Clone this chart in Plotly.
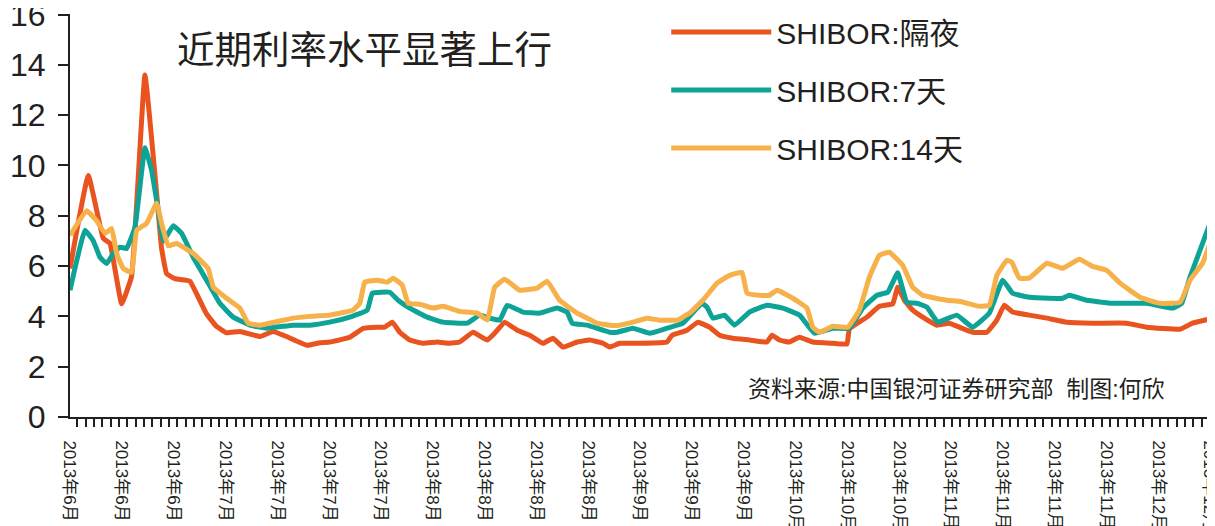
import plotly.graph_objects as go

# ---------------- data (x = trading-day position, y = rate %) ----------------
on_x = [0.0, 2.2, 4.0, 4.8, 6.2, 7.4, 9.0, 10.4, 11.0, 11.6, 12.6, 14.4, 15.2, 16.4, 17.6, 18.8,
        20.4, 22.8, 24.4, 26.0, 28.5, 30.0, 31.2, 33.6, 35.2, 36.9, 37.8, 38.7, 39.6, 40.8, 42.4,
        44.1, 45.6, 46.8, 48.4, 50.1, 51.0, 52.2, 53.7, 55.2, 56.8, 58.0, 59.2, 60.9, 62.4, 64.0,
        64.8, 66.0, 68.4, 71.7, 72.3, 74.1, 75.4, 76.8, 78.0, 79.6, 81.6, 83.7, 84.3, 85.2, 86.4,
        87.6, 89.2, 91.6, 93.3, 93.6, 95.7, 97.2, 98.8, 99.4, 100.2, 101.2, 102.4, 104.1, 105.6,
        106.8, 108.4, 110.1, 111.3, 112.2, 113.2, 115.2, 117.3, 119.7, 122.8, 126.9, 129.3, 133.3,
        134.8, 136.9]
on_y = [5.9, 9.6, 7.1, 6.9, 4.5, 5.6, 13.6, 8.9, 6.7, 5.7, 5.5, 5.4, 4.9, 4.1, 3.6, 3.35,
        3.4, 3.2, 3.4, 3.2, 2.85, 2.95, 2.98, 3.17, 3.52, 3.57, 3.57, 3.77, 3.37, 3.06, 2.93,
        2.98, 2.93, 2.98, 3.37, 3.06, 3.33, 3.77, 3.45, 3.25, 2.93, 3.13, 2.78, 2.98, 3.06, 2.93,
        2.78, 2.93, 2.93, 2.98, 3.25, 3.45, 3.77, 3.57, 3.25, 3.13, 3.06, 2.98, 3.25, 3.06, 2.98,
        3.17, 2.98, 2.93, 2.9, 3.5, 3.97, 4.4, 4.5, 5.16, 4.64, 4.25, 3.97, 3.65, 3.73,
        3.57, 3.37, 3.37, 3.85, 4.44, 4.17, 4.05, 3.93, 3.77, 3.73, 3.73, 3.57, 3.49,
        3.73, 3.9]

d7_x = [0.0, 1.8, 2.8, 3.6, 4.4, 5.2, 6.0, 6.8, 7.8, 9.0, 9.8, 10.6, 11.2, 12.4, 13.4, 14.8,
        16.4, 18.0, 19.6, 21.6, 23.6, 26.8, 28.8, 31.2, 33.6, 35.7, 36.3, 38.4, 39.4, 40.8, 42.9,
        44.8, 47.7, 49.2, 50.4, 51.6, 52.5, 54.4, 56.4, 58.5, 59.7, 60.3, 62.1, 64.8, 65.7, 67.6,
        69.6, 71.7, 73.6, 75.3, 75.9, 76.5, 77.2, 78.6, 79.8, 81.6, 83.7, 85.6, 87.6, 89.4, 91.6,
        93.6, 95.2, 96.9, 98.2, 99.4, 100.5, 101.7, 102.9, 104.2, 106.5, 108.4, 110.4, 112.0,
        113.2, 115.2, 117.6, 119.2, 120.0, 122.1, 125.2, 129.3, 132.4, 133.5, 134.5, 136.9]
d7_y = [5.04, 7.42, 7.0, 6.35, 6.1, 6.5, 6.75, 6.7, 7.54, 10.7, 9.8, 8.2, 7.0, 7.6, 7.3, 6.35,
        5.44, 4.52, 3.97, 3.65, 3.53, 3.65, 3.65, 3.77, 3.97, 4.25, 4.92, 4.96, 4.64, 4.33, 3.97,
        3.77, 3.73, 4.05, 3.93, 3.85, 4.44, 4.17, 4.13, 4.33, 4.17, 3.73, 3.65, 3.37, 3.37, 3.53,
        3.33, 3.53, 3.73, 4.33, 4.52, 4.37, 3.93, 4.05, 3.65, 4.17, 4.44, 4.33, 4.05, 3.33, 3.53,
        3.53, 4.33, 4.84, 4.96, 5.73, 4.56, 4.52, 4.37, 3.77, 4.05, 3.57, 4.13, 5.44,
        4.92, 4.76, 4.72, 4.72, 4.84, 4.64, 4.52, 4.52, 4.33, 4.52, 5.56, 7.7]

d14_x = [0.0, 2.0, 3.2, 4.2, 5.0, 5.6, 6.4, 7.4, 8.0, 9.2, 10.4, 11.0, 11.8, 12.8, 14.8, 16.6,
         17.2, 18.8, 20.4, 21.4, 22.8, 26.8, 28.8, 31.2, 34.0, 34.8, 35.4, 36.9, 38.1, 38.8, 39.9,
         40.6, 42.0, 43.6, 44.8, 46.8, 48.9, 50.1, 51.0, 52.2, 54.0, 56.1, 57.3, 58.8, 60.9, 62.1,
         63.3, 64.8, 66.0, 67.6, 69.3, 70.8, 72.9, 74.4, 76.0, 77.7, 79.2, 80.7, 81.3, 82.8, 84.0,
         84.9, 86.8, 88.5, 89.2, 90.0, 91.6, 93.4, 94.8, 96.0, 97.2, 98.4, 100.0, 101.2, 102.4,
         105.3, 106.8, 109.2, 110.4, 111.3, 112.5, 113.1, 114.0, 115.2, 117.3, 119.2, 121.2, 122.8,
         124.5, 126.1, 128.5, 130.9, 133.3, 134.5, 136.0, 136.9]
d14_y = [7.22, 8.2, 7.8, 7.3, 7.5, 6.5, 5.9, 5.75, 7.42, 7.7, 8.5, 7.7, 6.8, 6.9, 6.5, 5.9,
         5.16, 4.72, 4.33, 3.73, 3.65, 3.93, 4.0, 4.05, 4.25, 4.52, 5.36, 5.44, 5.36, 5.52, 5.24,
         4.52, 4.48, 4.33, 4.4, 4.2, 4.13, 3.85, 5.16, 5.48, 5.04, 5.12, 5.4, 4.64, 4.13, 3.93,
         3.73, 3.65, 3.65, 3.77, 3.93, 3.85, 3.85, 4.13, 4.64, 5.32, 5.63, 5.75, 4.92, 4.84, 4.84,
         5.04, 4.72, 4.33, 3.57, 3.37, 3.61, 3.57, 4.25, 5.56, 6.43, 6.55, 6.03, 5.16, 4.84,
         4.64, 4.6, 4.4, 4.44, 5.63, 6.23, 6.15, 5.52, 5.52, 6.11, 5.91, 6.27, 5.99,
         5.83, 5.32, 4.76, 4.52, 4.56, 5.44, 6.11, 6.9]

month_labels = ["2013年6月", "2013年6月", "2013年6月", "2013年7月", "2013年7月", "2013年7月",
                "2013年7月", "2013年8月", "2013年8月", "2013年8月", "2013年8月", "2013年9月",
                "2013年9月", "2013年9月", "2013年10月", "2013年10月", "2013年10月", "2013年11月",
                "2013年11月", "2013年11月", "2013年11月", "2013年12月", "2013年12月"]

y_ticks = [0, 2, 4, 6, 8, 10, 12, 14, 16]

series_names = ["SHIBOR:隔夜", "SHIBOR:7天", "SHIBOR:14天"]
series_colors = ["#E9531F", "#0DA396", "#F7B14A"]

# ---------------- figure ----------------
X_END = 136.9
FONT = "Liberation Sans, Arial, Noto Sans CJK SC, sans-serif"
INK = "#231F20"

fig = go.Figure()
for name, color, xs, ys in zip(series_names, series_colors,
                               [on_x, d7_x, d14_x], [on_y, d7_y, d14_y]):
    fig.add_trace(go.Scatter(
        x=xs, y=ys, mode="lines", name=name, legendgroup=name,
        line=dict(color=color, width=5, shape="spline", smoothing=0.3),
        hoverinfo="x+y"))

label_pos = [i * X_END / (len(month_labels) - 1) for i in range(len(month_labels))]

# the page body has an 8px default margin, so the margins below compensate for it
fig.update_layout(
    width=1215, height=526,
    margin=dict(l=62, r=13, t=6, b=117, autoexpand=False),
    paper_bgcolor="white", plot_bgcolor="white",
    font=dict(family=FONT, color=INK),
    showlegend=True,
    legend=dict(x=0.523, y=1.02, xanchor="left", yanchor="top",
                font=dict(size=30, family=FONT, color=INK),
                itemwidth=100, tracegroupgap=16, bgcolor="rgba(0,0,0,0)"),
    xaxis=dict(range=[0, X_END], showgrid=False, zeroline=False, automargin=False,
               showline=True, linecolor=INK, linewidth=2,
               tickmode="array", tickvals=label_pos, ticktext=month_labels,
               ticks="", tickangle=90, ticklabelstandoff=18, ticklabeloverflow="allow",
               tickfont=dict(size=17, family=FONT, color=INK),
               minor=dict(tickmode="array", tickvals=[k + 0.9 for k in range(137)],
                          ticks="outside", ticklen=8, tickwidth=1.5, tickcolor=INK)),
    yaxis=dict(range=[0, 16.02], tickmode="array", tickvals=y_ticks,
               showgrid=False, zeroline=False, automargin=False,
               showline=True, linecolor=INK, linewidth=2,
               ticks="outside", ticklen=10, tickwidth=1.5, tickcolor=INK,
               ticklabelstandoff=6, ticklabeloverflow="allow",
               tickfont=dict(size=32, family=FONT, color=INK)),
)

fig.add_annotation(text="近期利率水平显著上行", xref="paper", yref="paper",
                   x=(175 - 70) / 1140, y=(417 - 50) / 403, xanchor="left", yanchor="middle",
                   showarrow=False, font=dict(size=37.5, family=FONT, color=INK))
fig.add_annotation(text="资料来源:中国银河证券研究部  制图:何欣", xref="paper", yref="paper",
                   x=(1167 - 70) / 1140, y=(417 - 389) / 403, xanchor="right", yanchor="middle",
                   showarrow=False, font=dict(size=23, family=FONT, color=INK))

fig.write_html("out.html")
